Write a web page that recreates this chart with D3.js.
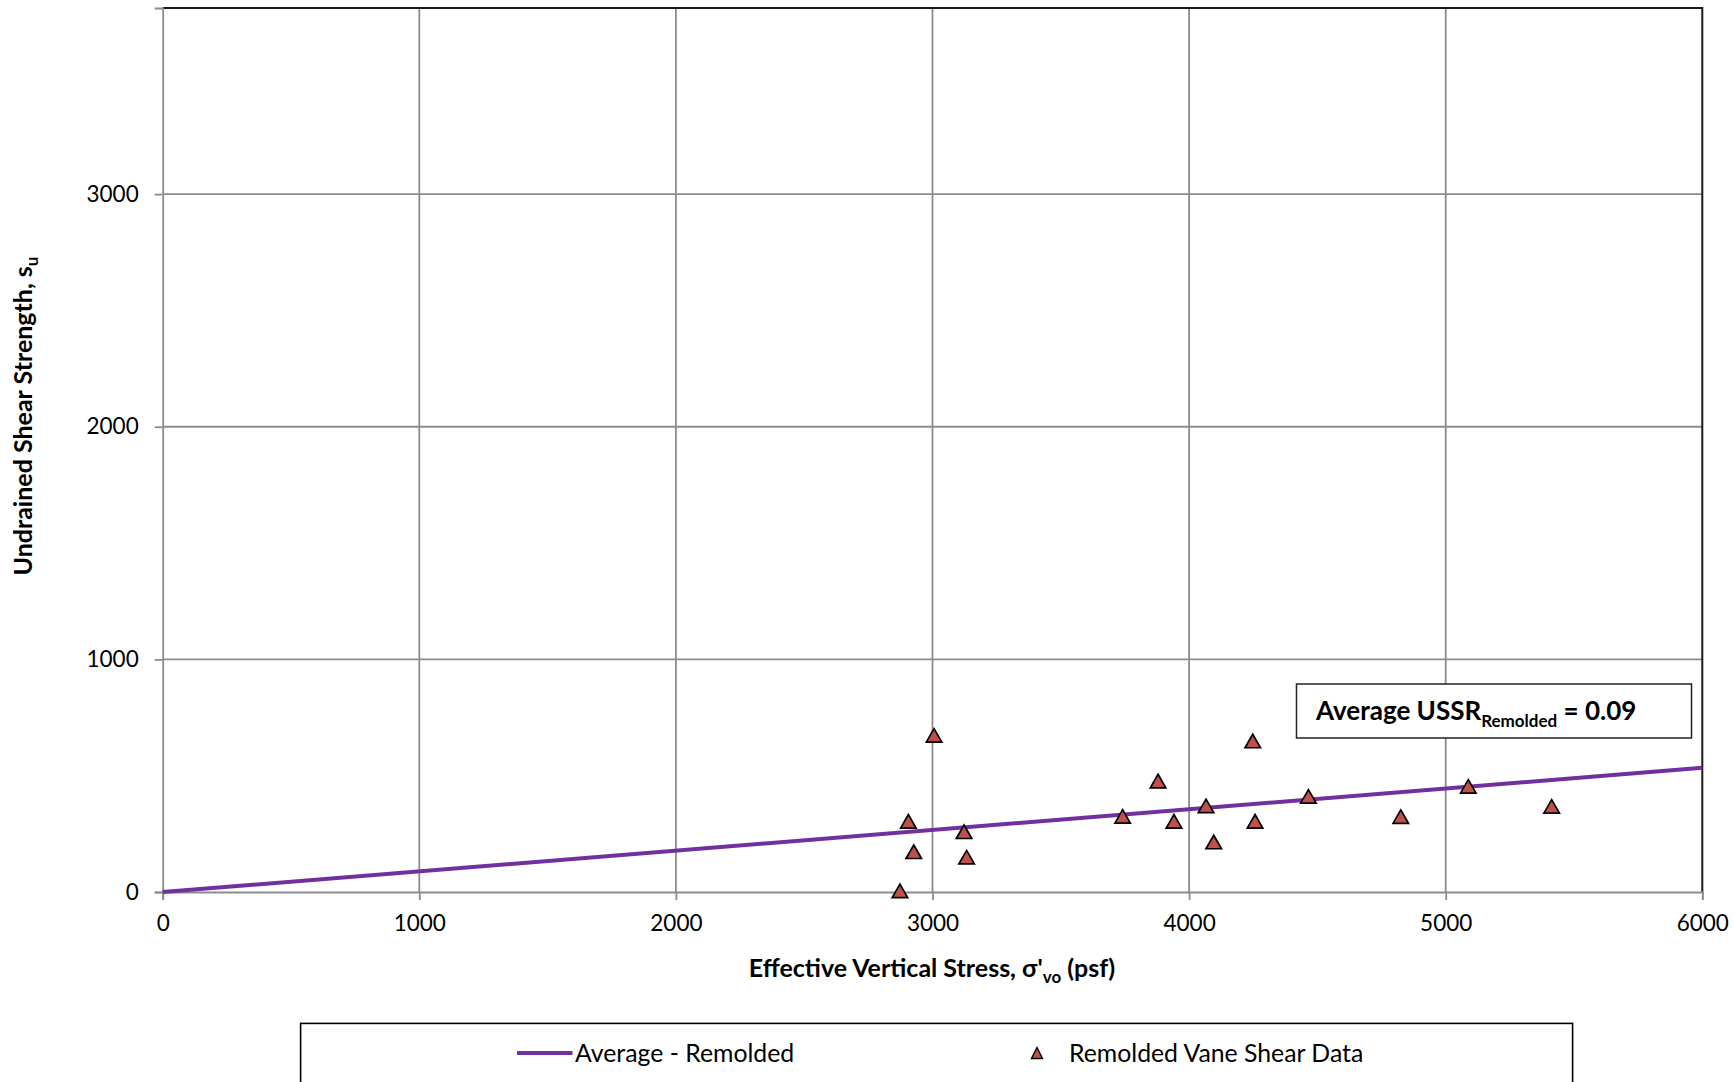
<!DOCTYPE html>
<html>
<head>
<meta charset="utf-8">
<script src="https://cdn.jsdelivr.net/npm/d3@7"></script>
<style>
  html, body { margin: 0; padding: 0; background: #fff; }
  svg { display: block; font-family: Lato, "Open Sans", sans-serif; }
</style>
</head>
<body>
<svg id="chart" width="1733" height="1082"></svg>
<script>
// Remolded vane shear results: effective vertical stress (psf) vs undrained shear strength (psf)
const stressPsf = [2873, 2906, 2927, 3006, 3123, 3133, 3741, 3879, 3941, 4066, 4096, 4248, 4257, 4465, 4825, 5088, 5413];
const strengthPsf = [5, 304, 173, 673, 259, 150, 325, 477, 304, 370, 215, 649, 304, 411, 324, 454, 368];

// Average undrained shear strength ratio (su / σ'vo), remolded
const ussrRemolded = 0.089;

const xTicks = [0, 1000, 2000, 3000, 4000, 5000, 6000];
const yTicks = [0, 1000, 2000, 3000];
const xDomain = [0, 6000];
const yDomain = [0, 3800];

const svg = d3.select("#chart");
const plot = { left: 162.7, right: 1702.3, top: 8, bottom: 892 };

const x = d3.scaleLinear().domain(xDomain).range([plot.left, plot.right]);
const y = d3.scaleLinear().domain(yDomain).range([plot.bottom, plot.top]);

const gridColor = "#8c8c8c";

// gridlines
svg.append("g")
  .selectAll("line.vx")
  .data(xTicks.filter(t => t > 0 && t < 6000))
  .join("line")
  .attr("x1", d => x(d)).attr("x2", d => x(d))
  .attr("y1", plot.top).attr("y2", plot.bottom)
  .attr("stroke", gridColor).attr("stroke-width", 1.8);

svg.append("g")
  .selectAll("line.hy")
  .data(yTicks.filter(t => t > 0))
  .join("line")
  .attr("x1", plot.left).attr("x2", plot.right)
  .attr("y1", d => y(d)).attr("y2", d => y(d))
  .attr("stroke", gridColor).attr("stroke-width", 1.8);

// plot frame: top and right edges
svg.append("path")
  .attr("d", `M${plot.left},${plot.top}H${plot.right}V${plot.bottom}`)
  .attr("fill", "none").attr("stroke", "#1a1a1a").attr("stroke-width", 2);

// axes
const xAxis = d3.axisBottom(x).tickValues(xTicks).tickSize(8).tickPadding(10).tickFormat(d3.format("d"));
const yAxis = d3.axisLeft(y).tickValues(yTicks).tickSize(8).tickPadding(10).tickFormat(d3.format("d"));

const gx = svg.append("g").attr("transform", `translate(0,${plot.bottom})`).call(xAxis);
const gy = svg.append("g").attr("transform", `translate(${plot.left},0)`).call(yAxis);

[gx, gy].forEach(g => {
  g.select(".domain").attr("stroke", gridColor).attr("stroke-width", 1.8);
  g.selectAll(".tick line").attr("stroke", gridColor).attr("stroke-width", 1.8);
  g.selectAll(".tick text")
    .attr("fill", "#000")
    .style("font-family", "Lato, sans-serif")
    .style("font-size", "22.5px");
});
gy.selectAll(".tick text").attr("dx", "-6");
gx.selectAll(".tick text").attr("dy", "0.95em");

// average line through the origin
const lineData = xDomain.map(v => ({ x: v, y: v * ussrRemolded }));
svg.append("path")
  .datum(lineData)
  .attr("d", d3.line().x(d => x(d.x)).y(d => y(d.y)))
  .attr("fill", "none")
  .attr("stroke", "#7030a0")
  .attr("stroke-width", 4);

// triangle marker centred on its bounding box
function triangle(w, h) {
  const p = d3.path();
  p.moveTo(0, -h / 2);
  p.lineTo(w / 2, h / 2);
  p.lineTo(-w / 2, h / 2);
  p.closePath();
  return p.toString();
}

const points = stressPsf.map((s, i) => ({ s, su: strengthPsf[i] }));
svg.append("g")
  .selectAll("path")
  .data(points)
  .join("path")
  .attr("transform", d => `translate(${x(d.s)},${y(d.su)})`)
  .attr("d", triangle(15.5, 13.5))
  .attr("fill", "#c0504d")
  .attr("stroke", "#000")
  .attr("stroke-width", 1.7)
  .attr("stroke-linejoin", "miter");

// annotation box
const note = svg.append("g");
note.append("rect")
  .attr("x", 1296.5).attr("y", 684)
  .attr("width", 395).attr("height", 54)
  .attr("fill", "#fff").attr("stroke", "#222").attr("stroke-width", 1.5);
const noteText = note.append("text")
  .attr("x", 1316).attr("y", 720)
  .style("font-family", "Lato, sans-serif")
  .style("font-weight", "bold")
  .style("font-size", "26px")
  .attr("fill", "#000");
noteText.append("tspan").text("Average USSR");
noteText.append("tspan").attr("dy", 7).style("font-size", "17px").text("Remolded");
noteText.append("tspan").attr("dy", -7).text(" = " + ussrRemolded.toFixed(2));

// axis titles
const xt = svg.append("text")
  .attr("x", 932).attr("y", 977)
  .attr("text-anchor", "middle")
  .style("font-weight", "bold").style("font-size", "25px")
  .attr("fill", "#000");
xt.append("tspan").text("Effective Vertical Stress, σ'");
xt.append("tspan").attr("dy", 6).style("font-size", "17px").text("vo");
xt.append("tspan").attr("dy", -6).text(" (psf)");

const yt = svg.append("text")
  .attr("transform", "translate(32,416) rotate(-90)")
  .attr("text-anchor", "middle")
  .style("font-weight", "bold").style("font-size", "25px")
  .attr("fill", "#000");
yt.append("tspan").text("Undrained Shear Strength, s");
yt.append("tspan").attr("dy", 6).style("font-size", "17px").text("u");

// legend
const legend = svg.append("g");
legend.append("rect")
  .attr("x", 300.6).attr("y", 1023.4)
  .attr("width", 1272).attr("height", 80)
  .attr("fill", "#fff").attr("stroke", "#000").attr("stroke-width", 1.6);

legend.append("line")
  .attr("x1", 517).attr("x2", 572.5)
  .attr("y1", 1053).attr("y2", 1053)
  .attr("stroke", "#7030a0").attr("stroke-width", 4);
legend.append("text")
  .attr("x", 575).attr("y", 1062)
  .style("font-size", "24.8px").attr("fill", "#000")
  .text("Average - Remolded");

legend.append("path")
  .attr("transform", "translate(1037,1053)")
  .attr("d", triangle(11, 11))
  .attr("fill", "#c0504d").attr("stroke", "#000").attr("stroke-width", 1.4);
legend.append("text")
  .attr("x", 1069).attr("y", 1062)
  .style("font-size", "24.8px").attr("fill", "#000")
  .text("Remolded Vane Shear Data");
</script>
</body>
</html>
